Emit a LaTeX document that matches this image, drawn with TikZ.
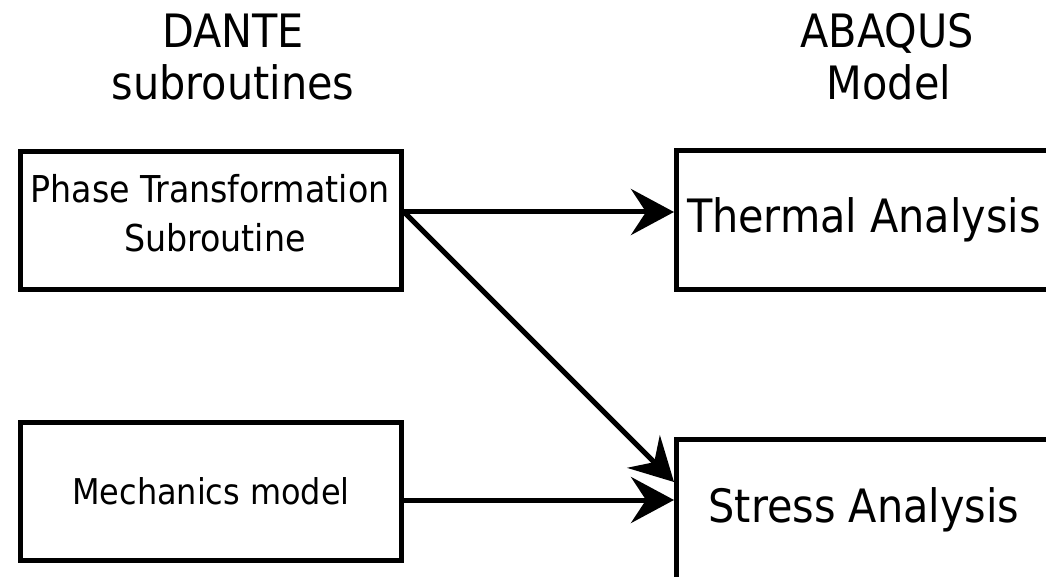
\documentclass[tikz,border=0pt]{standalone}
\usepackage{fontspec}
\setmainfont{DejaVu Sans Condensed}
\usetikzlibrary{arrows.meta}
\begin{document}
\begin{tikzpicture}[x=1pt,y=-1pt,
  box/.style={draw,line width=5pt,inner sep=0pt,align=center},
  conn/.style={line width=5pt,-{Stealth[length=43pt,width=46pt,inset=15pt]}},
  title/.style={align=center,font=\fontsize{46}{52}\selectfont,inner sep=0pt},
  big/.style={font=\fontsize{46}{52}\selectfont},
  small/.style={font=\fontsize{37}{49}\selectfont,inner sep=0pt},
  smaller/.style={font=\fontsize{35.5}{49}\selectfont}]
\useasboundingbox (0,0) rectangle (1046,577);
\clip (0,0) rectangle (1046,577);
\node[title,anchor=base] (dante) at (233,48) {DANTE};
\node[title,anchor=base] (dsub) at (233,100) {subroutines};
\node[title,anchor=base] (abaqus) at (887,48) {ABAQUS};
\node[title,anchor=base] (amodel) at (889,100) {Model};
\node[box,minimum width=381pt,minimum height=138pt] (p) at (211,220.5) {};
\node[small,anchor=base] (p1) at (210,203) {Phase Transformation};
\node[small,anchor=base] (p2) at (215,252) {Subroutine};
\node[box,smaller,minimum width=381pt,minimum height=138pt] (m) at (211,491.5) {Mechanics model};
\node[box,big,minimum width=375pt,minimum height=139pt] (t) at (864,220) {Thermal Analysis};
\node[box,big,minimum width=375pt,minimum height=141pt] (s) at (864,510) {Stress Analysis};
\draw[conn] ([yshift=8.5pt]p.east) -- ([yshift=8pt]t.west);
\draw[conn] ([yshift=8.5pt]p.east) -- ([yshift=28pt]s.west);
\draw[conn] ([yshift=-8.5pt]m.east) -- ([yshift=10pt]s.west);
\end{tikzpicture}
\end{document}
